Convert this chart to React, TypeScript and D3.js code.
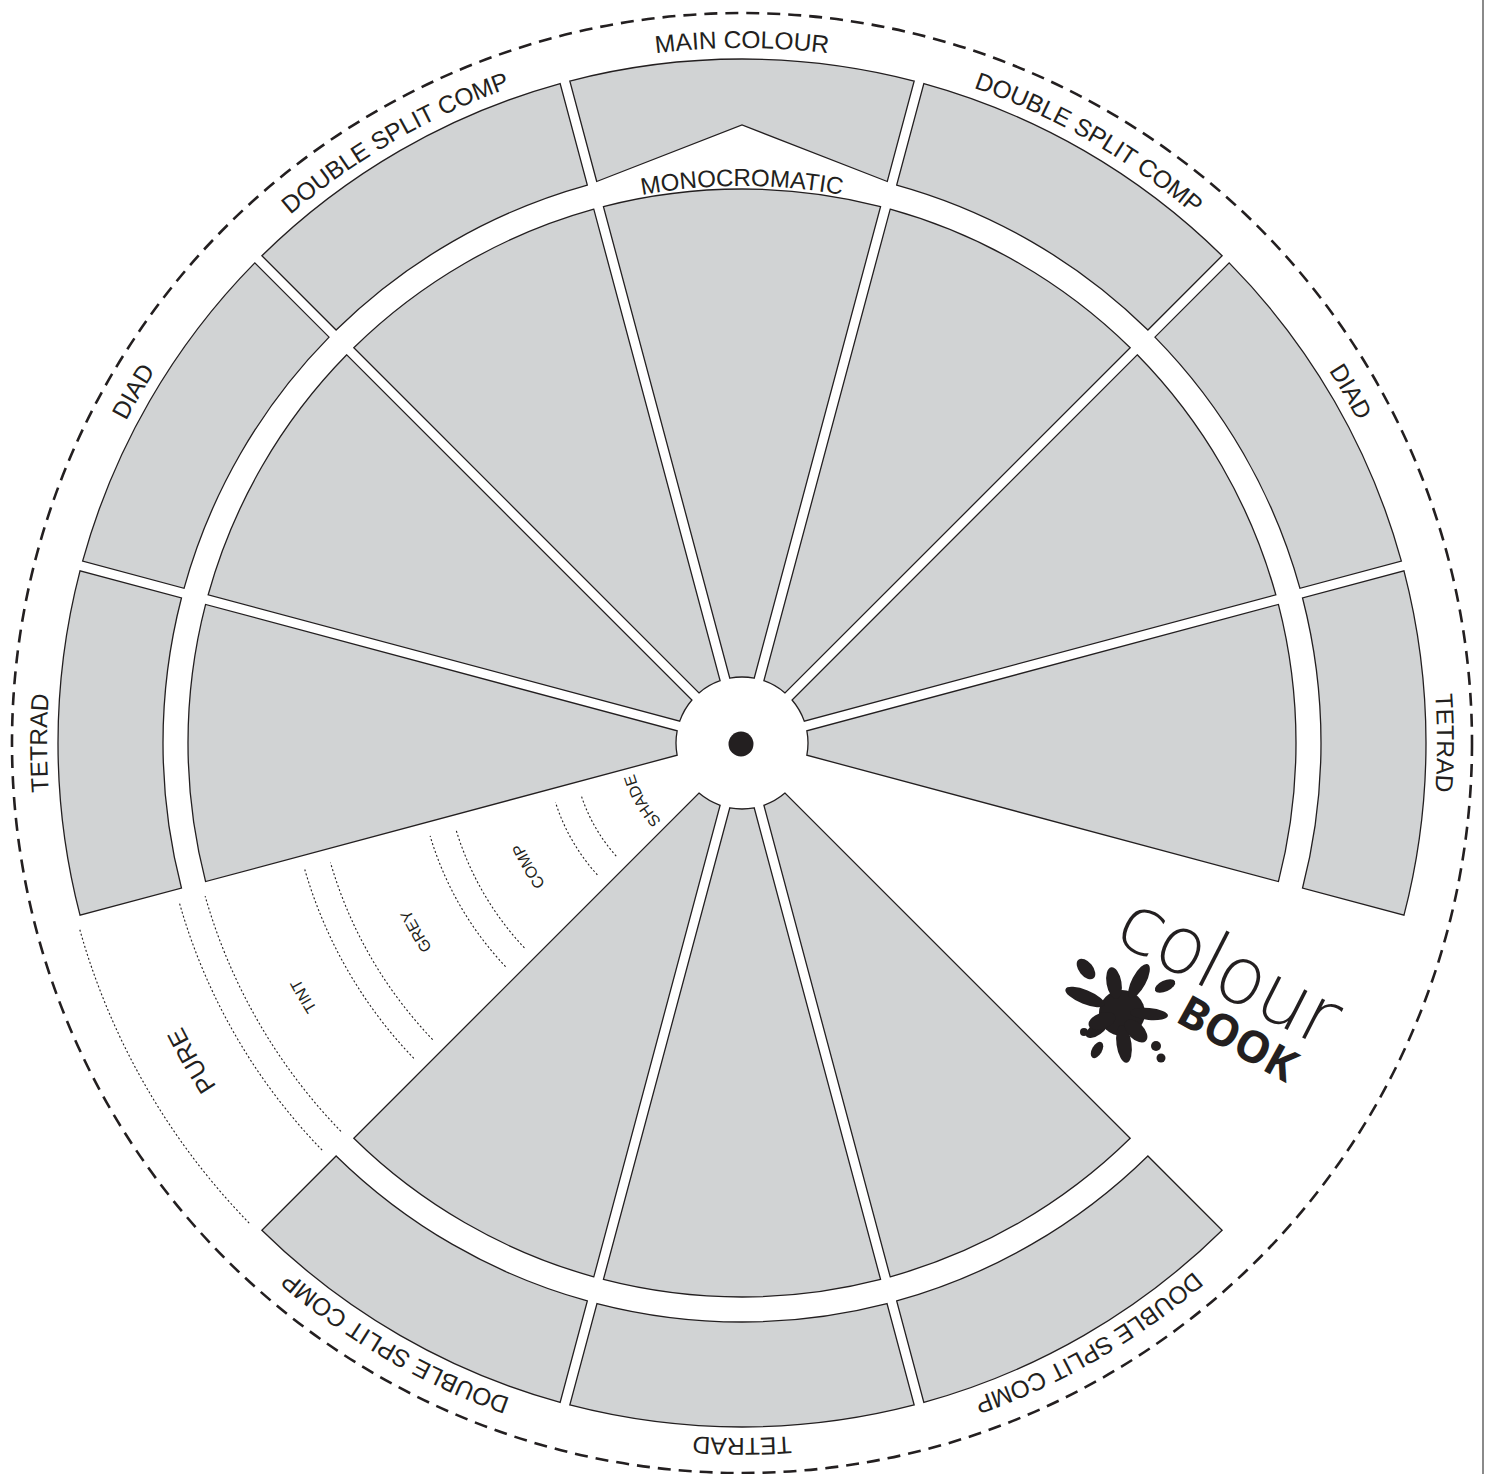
import React from "react";
import * as d3 from "d3";

// wheel segments: centre angle in degrees, clockwise from 12 o'clock
const segmentAngles = [0, 30, 60, 90, 150, 180, 210, 270, 300, 330];
const outerLabels = [
  "MAIN COLOUR",
  "DOUBLE SPLIT COMP",
  "DIAD",
  "TETRAD",
  "DOUBLE SPLIT COMP",
  "TETRAD",
  "DOUBLE SPLIT COMP",
  "TETRAD",
  "DIAD",
  "DOUBLE SPLIT COMP",
];
const innerLabels = ["MONOCROMATIC"];
const innerLabelAngles = [0];
const scaleLabels = ["SHADE", "COMP", "GREY", "TINT", "PURE"];
const scaleAngle = 240;
const logoWords = ["colour", "BOOK"];

const W = 1487;
const H = 1474;
const cx = 742;
const cy = 743;

const HUB_R = 66;
const INNER_R = 554;
const RING_R0 = 579;
const RING_R1 = 684;
const CHEV_R = 580;
const CHEV_PEAK = 618;
const LABEL_R = 695;
const DASH_R = 730;
const GAP = 10;
const SPAN = 30;

const FILL = "#d1d3d4";
const INK = "#231f20";
const FONT = "'Liberation Sans', Arial, sans-serif";

const rad = (d: number) => (d * Math.PI) / 180;
const pt = (a: number, r: number): [number, number] => [r * Math.sin(a), -r * Math.cos(a)];

// arc path centred on a clock angle, used for text along the circle
function labelArc(angle: number, r: number) {
  const p = d3.path();
  p.arc(0, 0, r, rad(angle - 180), rad(angle), false);
  return p.toString();
}

function mainColourPath() {
  const h = GAP / 2;
  const aOut = rad(SPAN / 2) - Math.asin(h / RING_R1);
  const aIn = rad(SPAN / 2) - Math.asin(h / CHEV_R);
  const p = d3.path();
  p.moveTo(...pt(-aIn, CHEV_R));
  p.lineTo(...pt(-aOut, RING_R1));
  p.arc(0, 0, RING_R1, -aOut - Math.PI / 2, aOut - Math.PI / 2, false);
  p.lineTo(...pt(aIn, CHEV_R));
  p.lineTo(0, -CHEV_PEAK);
  p.closePath();
  return p.toString();
}

const Splat = ({ x, y }: { x: number; y: number }) => {
  const blobs: [number, number, number, number, number][] = [
    [-36, -44, 12, 7, -129],
    [-8, -30, 16, 7.5, -100],
    [17, -32, 19, 7, -62],
    [43, -27, 11, 5.5, -25],
    [27, 1, 19, 6, 5],
    [-37, -16, 21, 7, 22],
    [-25, 16, 13, 6, 145],
    [2, 31, 19, 7.5, 82],
    [-25, 37, 9, 5, 120],
    [-20, 8, 14, 8, 160],
    [14, 18, 14, 8, 45],
  ];
  return (
    <g transform={`translate(${x},${y})`} fill={INK}>
      <circle r={23} />
      {blobs.map(([bx, by, rx, ry, rot], i) => (
        <ellipse key={i} rx={rx} ry={ry} transform={`translate(${bx},${by}) rotate(${rot})`} />
      ))}
      <circle cx={34} cy={33} r={5} />
      <circle cx={39} cy={45} r={4.5} />
      <circle cx={-38} cy={19} r={4} />
    </g>
  );
};

export default function App() {
  const innerArc = d3
    .arc<any>()
    .innerRadius(HUB_R)
    .outerRadius(INNER_R)
    .padRadius(100)
    .padAngle(GAP / 100);
  const ringArc = d3
    .arc<any>()
    .innerRadius(RING_R0)
    .outerRadius(RING_R1)
    .padRadius(100)
    .padAngle(GAP / 100);

  const seg = (a: number) => ({
    startAngle: rad(a - SPAN / 2),
    endAngle: rad(a + SPAN / 2),
  });

  const band = d3
    .scaleBand<string>()
    .domain(scaleLabels)
    .range([HUB_R, 688])
    .paddingInner(0.205);

  const dottedRadii: number[] = [];
  scaleLabels.forEach((l, i) => {
    const r0 = band(l)!;
    if (i > 0) dottedRadii.push(r0);
    dottedRadii.push(r0 + band.bandwidth());
  });

  const dotted = (r: number) => {
    const inset = Math.asin(9 / r);
    const a0 = rad(scaleAngle - SPAN / 2) + inset;
    const a1 = rad(scaleAngle + SPAN / 2) - inset;
    const p = d3.path();
    p.arc(0, 0, r, a0 - Math.PI / 2, a1 - Math.PI / 2, false);
    return p.toString();
  };

  return (
    <svg
      width={W}
      height={H}
      style={{ position: "absolute", left: 0, top: 0, background: "#fff" }}
    >
      <line x1={1483} x2={1483} y1={0} y2={H} stroke="#8a8a8a" strokeWidth={2} />
      <g transform={`translate(${cx},${cy})`}>
        <defs>
          {segmentAngles.map((a, i) => (
            <path key={i} id={`outer-${i}`} d={labelArc(a, LABEL_R)} />
          ))}
          {innerLabelAngles.map((a, i) => (
            <path key={i} id={`inner-${i}`} d={labelArc(a, 557)} />
          ))}
          {scaleLabels.map((l, i) => {
            const fs = l === "PURE" ? 25 : 16;
            const r = band(l)! + band.bandwidth() / 2 - fs * 0.35;
            return <path key={i} id={`scale-${i}`} d={labelArc(scaleAngle, r)} />;
          })}
        </defs>

        <circle r={DASH_R} fill="none" stroke={INK} strokeWidth={2.6} strokeDasharray="13 8" />

        {segmentAngles.map((a, i) => (
          <path
            key={`in-${i}`}
            d={innerArc(seg(a))!}
            fill={FILL}
            stroke={INK}
            strokeWidth={1.3}
          />
        ))}
        {segmentAngles.map((a, i) => (
          <path
            key={`ring-${i}`}
            d={a === 0 ? mainColourPath() : ringArc(seg(a))!}
            fill={FILL}
            stroke={INK}
            strokeWidth={1.3}
          />
        ))}

        {dottedRadii.map((r, i) => (
          <path key={`dot-${i}`} d={dotted(r)} fill="none" stroke={INK} strokeWidth={1.1} strokeDasharray="2 2.2" />
        ))}

        <g fill={INK} fontFamily={FONT}>
          {outerLabels.map((t, i) => (
            <text key={i} fontSize={24.5}>
              <textPath href={`#outer-${i}`} startOffset="50%" textAnchor="middle">
                {t}
              </textPath>
            </text>
          ))}
          {innerLabels.map((t, i) => (
            <text key={i} fontSize={24}>
              <textPath href={`#inner-${i}`} startOffset="50%" textAnchor="middle">
                {t}
              </textPath>
            </text>
          ))}
          {scaleLabels.map((t, i) => (
            <text key={i} fontSize={t === "PURE" ? 25 : 16}>
              <textPath href={`#scale-${i}`} startOffset="50%" textAnchor="middle">
                {t}
              </textPath>
            </text>
          ))}
        </g>

        <circle cx={-1} cy={1} r={12.5} fill={INK} />
      </g>

      <g fill={INK}>
        <Splat x={1122} y={1013} />
        <text
          transform="translate(1226,975) rotate(27)"
          y={21}
          textAnchor="middle"
          fontFamily="'DejaVu Sans', sans-serif"
          fontWeight={200}
          fontSize={80}
          letterSpacing={-2}
        >
          {logoWords[0]}
        </text>
        <text
          transform="translate(1238,1038) rotate(29)"
          y={16}
          textAnchor="middle"
          fontFamily="'Noto Sans', sans-serif"
          fontWeight={700}
          fontSize={44}
        >
          {logoWords[1]}
        </text>
      </g>
    </svg>
  );
}
